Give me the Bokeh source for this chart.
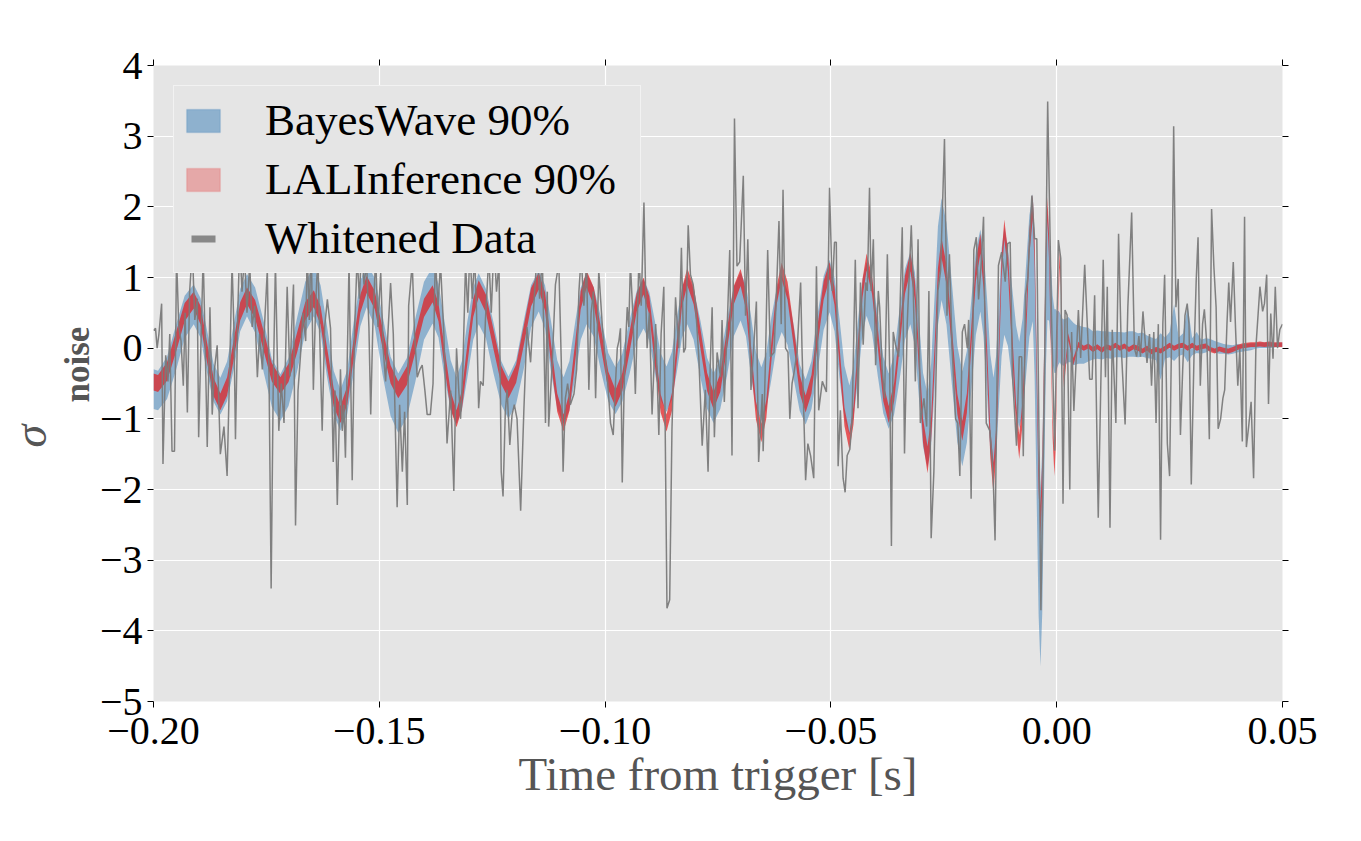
import math
import numpy as np
from bokeh.plotting import figure
from bokeh.models import (Range1d, LinearAxis, SingleIntervalTicker, CustomJSTickFormatter,
                          Legend, LegendItem, Title)
from bokeh.embed import file_html
from bokeh.resources import INLINE

# ---------------- data (time in ms from trigger, values in sigma_noise) ----------------
band_t = [
    -200.0, -199.0, -197.0, -195.0, -193.1, -191.1, -189.6, -188.2, -186.7, -185.2,
    -183.7, -182.2, -180.8, -179.3, -177.5, -175.6, -173.8, -171.9, -170.1, -168.2,
    -166.4, -164.5, -163.0, -161.6, -160.1, -158.6, -157.1, -155.7, -154.2, -152.8,
    -151.0, -149.3, -147.5, -145.8, -143.9, -142.0, -140.1, -138.2, -136.9, -135.6,
    -134.2, -132.9, -131.7, -130.5, -129.2, -128.0, -126.4, -124.7, -123.0, -121.4,
    -119.7, -118.0, -116.4, -114.7, -113.3, -112.0, -110.6, -109.2, -107.9, -106.6,
    -105.4, -104.1, -102.5, -100.9, -99.3, -97.7, -96.2, -94.6, -93.0, -91.5,
    -90.2, -89.0, -87.7, -86.4, -85.2, -84.1, -83.0, -81.8, -80.4, -78.9,
    -77.4, -76.0, -74.5, -73.0, -71.5, -70.0, -68.8, -67.7, -66.6, -65.4,
    -64.3, -63.2, -62.0, -60.9, -59.6, -58.2, -56.9, -55.6, -54.3, -53.0,
    -51.6, -50.3, -49.2, -48.1, -47.0, -45.9, -45.0, -44.0, -43.0, -42.1,
    -40.9, -39.6, -38.4, -37.2, -36.0, -34.8, -33.6, -32.4, -31.4, -30.5,
    -29.6, -28.6, -27.8, -27.0, -26.3, -25.5, -24.4, -23.2, -22.0, -20.9,
    -19.9, -18.9, -17.9, -16.9, -16.2, -15.4, -14.7, -14.0, -13.4, -12.8,
    -12.2, -11.6, -10.8, -9.9, -9.0, -8.3, -7.55, -6.8, -6.05, -5.3,
    -4.9, -4.45, -4.0, -3.6, -3.2, -2.8, -2.4, -2.05, -1.7, -1.3,
    -0.9, -0.5, -0.2, 0.1, 0.4, 0.7, 0.9, 1.15, 1.4, 1.6,
    2.1, 2.6, 3.15, 3.7, 4.25, 4.8, 6, 7, 8, 9,
    10, 11, 12, 13, 14, 15, 16, 17, 18, 19,
    20, 21, 22, 23, 24, 25, 26, 27, 28, 29,
    30, 31, 32, 33, 34, 35, 36, 37, 38, 39,
    40, 41, 42, 43, 44, 45, 46, 47, 48, 49,
    50,
]

lal_mid = [
    -0.48, -0.50, -0.33, 0.09, 0.51, 0.68, 0.47, -0.04, -0.55, -0.76,
    -0.54, -0.01, 0.52, 0.74, 0.55, 0.10, -0.34, -0.53, -0.35, 0.08,
    0.52, 0.70, 0.46, -0.12, -0.70, -0.94, -0.67, -0.02, 0.63, 0.90,
    0.68, 0.15, -0.37, -0.59, -0.39, 0.09, 0.57, 0.77, 0.51, -0.12,
    -0.74, -1.00, -0.73, -0.08, 0.57, 0.84, 0.63, 0.12, -0.38, -0.59,
    -0.36, 0.18, 0.72, 0.95, 0.66, -0.06, -0.77, -1.06, -0.76, -0.04,
    0.68, 0.98, 0.73, 0.14, -0.46, -0.71, -0.48, 0.08, 0.65, 0.88,
    0.60, -0.09, -0.78, -1.06, -0.76, -0.02, 0.71, 1.01, 0.75, 0.14,
    -0.48, -0.74, -0.49, 0.13, 0.75, 1.00, 0.68, -0.10, -0.88, -1.20,
    -0.86, -0.06, 0.75, 1.09, 0.81, 0.15, -0.51, -0.79, -0.51, 0.16,
    0.82, 1.10, 0.74, -0.11, -0.97, -1.32, -0.95, -0.05, 0.85, 1.22,
    0.90, 0.14, -0.62, -0.94, -0.62, 0.14, 0.90, 1.22, 0.81, -0.18,
    -1.17, -1.58, -1.14, -0.08, 0.98, 1.42, 1.04, 0.12, -0.79, -1.17,
    -0.78, 0.16, 1.09, 1.48, 0.99, -0.18, -1.35, -1.84, -1.32, -0.08,
    1.16, 1.68, 1.23, 0.14, -0.95, -1.40, -0.90, 0.30, 1.50, 2.00,
    1.35, -0.23, -1.80, -2.45, -1.80, -0.24, 1.32, 1.97, 1.44, 0.17,
    -1.11, -1.64, -1.21, -0.18, 0.84, 1.27, 1.02, 0.40, -0.22, -0.47,
    -0.16, 0.16, -0.02, -0.19, -0.07, 0.05, 0.00, 0.03, -0.02, 0.02,
    -0.03, 0.02, 0.00, 0.04, 0.00, 0.03, -0.02, 0.02, 0.00, -0.04,
    0.00, -0.05, -0.02, -0.04, 0.00, 0.04, 0.00, 0.03, 0.04, 0.00,
    0.04, 0.00, 0.02, 0.03, -0.02, -0.04, -0.01, -0.03, -0.04, -0.02,
    0.01, 0.03, 0.04, 0.05, 0.05, 0.06, 0.05, 0.06, 0.05, 0.05,
    0.05,
]

lal_half = [
    0.12, 0.12, 0.13, 0.14, 0.13, 0.12, 0.13, 0.14, 0.13, 0.12,
    0.13, 0.14, 0.13, 0.12, 0.13, 0.14, 0.13, 0.12, 0.13, 0.14,
    0.13, 0.12, 0.13, 0.14, 0.13, 0.12, 0.13, 0.14, 0.13, 0.12,
    0.13, 0.14, 0.13, 0.12, 0.13, 0.14, 0.13, 0.12, 0.13, 0.14,
    0.13, 0.12, 0.13, 0.14, 0.13, 0.12, 0.13, 0.14, 0.13, 0.12,
    0.13, 0.14, 0.13, 0.12, 0.13, 0.14, 0.13, 0.12, 0.13, 0.14,
    0.13, 0.12, 0.13, 0.14, 0.13, 0.12, 0.13, 0.14, 0.13, 0.12,
    0.13, 0.14, 0.13, 0.12, 0.13, 0.14, 0.13, 0.12, 0.13, 0.14,
    0.13, 0.12, 0.13, 0.14, 0.13, 0.12, 0.13, 0.14, 0.13, 0.13,
    0.13, 0.14, 0.13, 0.12, 0.13, 0.14, 0.13, 0.12, 0.13, 0.14,
    0.13, 0.12, 0.13, 0.14, 0.13, 0.12, 0.13, 0.14, 0.13, 0.12,
    0.13, 0.14, 0.13, 0.12, 0.13, 0.14, 0.13, 0.13, 0.14, 0.15,
    0.17, 0.19, 0.17, 0.16, 0.15, 0.14, 0.14, 0.15, 0.14, 0.14,
    0.14, 0.15, 0.14, 0.14, 0.15, 0.17, 0.20, 0.22, 0.19, 0.17,
    0.15, 0.14, 0.15, 0.16, 0.17, 0.17, 0.17, 0.17, 0.17, 0.17,
    0.18, 0.20, 0.22, 0.22, 0.20, 0.18, 0.17, 0.17, 0.17, 0.17,
    0.17, 0.17, 0.17, 0.16, 0.15, 0.13, 0.13, 0.12, 0.10, 0.08,
    0.06, 0.05, 0.05, 0.05, 0.04, 0.04, 0.035, 0.035, 0.035, 0.035,
    0.035, 0.035, 0.035, 0.035, 0.035, 0.035, 0.035, 0.035, 0.035, 0.035,
    0.035, 0.035, 0.035, 0.035, 0.035, 0.035, 0.035, 0.035, 0.035, 0.035,
    0.035, 0.035, 0.035, 0.035, 0.035, 0.035, 0.035, 0.035, 0.035, 0.035,
    0.035, 0.035, 0.035, 0.035, 0.035, 0.035, 0.035, 0.035, 0.035, 0.035,
    0.035,
]

bw_mid = [
    -0.58, -0.60, -0.42, 0.01, 0.44, 0.62, 0.43, -0.03, -0.49, -0.68,
    -0.47, 0.03, 0.54, 0.75, 0.54, 0.02, -0.49, -0.70, -0.48, 0.05,
    0.58, 0.80, 0.55, -0.04, -0.63, -0.88, -0.62, 0.00, 0.63, 0.89,
    0.65, 0.05, -0.54, -0.78, -0.56, -0.02, 0.53, 0.75, 0.53, 0.00,
    -0.52, -0.74, -0.53, -0.02, 0.49, 0.70, 0.49, 0.00, -0.49, -0.70,
    -0.48, 0.05, 0.59, 0.81, 0.58, 0.03, -0.51, -0.74, -0.53, -0.02,
    0.49, 0.70, 0.51, 0.05, -0.41, -0.60, -0.42, 0.01, 0.45, 0.63,
    0.45, 0.02, -0.40, -0.58, -0.39, 0.05, 0.50, 0.69, 0.48, -0.01,
    -0.50, -0.71, -0.50, 0.01, 0.52, 0.73, 0.53, 0.04, -0.45, -0.65,
    -0.46, -0.01, 0.44, 0.63, 0.43, -0.07, -0.56, -0.76, -0.52, 0.06,
    0.64, 0.88, 0.62, 0.00, -0.62, -0.88, -0.63, -0.02, 0.59, 0.84,
    0.61, 0.04, -0.52, -0.75, -0.52, 0.05, 0.62, 0.85, 0.55, -0.16,
    -0.87, -1.17, -0.79, 0.12, 1.02, 1.40, 1.05, 0.20, -0.65, -1.00,
    -0.69, 0.05, 0.79, 1.10, 0.78, 0.00, -0.78, -1.10, -0.80, -0.08,
    0.65, 0.95, 0.73, 0.22, -0.30, -0.52, -0.26, 0.38, 1.02, 1.28,
    0.62, -0.99, -2.59, -3.25, -2.60, -1.03, 0.55, 1.20, 1.04, 0.65,
    0.26, 0.10, 0.10, 0.12, 0.15, 0.15, 0.12, 0.10, 0.08, 0.08,
    0.10, 0.12, 0.10, 0.06, 0.05, 0.05, 0.04, 0.05, 0.04, 0.05,
    0.04, 0.05, 0.04, 0.05, 0.05, 0.04, 0.06, 0.06, 0.04, 0.05,
    0.02, 0.00, -0.02, -0.12, 0.00, 0.05, 0.22, 0.02, 0.06, 0.20,
    0.02, 0.08, 0.02, 0.04, 0.05, 0.02, 0.00, -0.01, -0.02, -0.02,
    0.00, 0.00, 0.01, 0.02, 0.03, 0.04, 0.04, 0.04, 0.04, 0.05,
    0.05,
]

bw_half = [
    0.28, 0.28, 0.30, 0.32, 0.30, 0.28, 0.28, 0.30, 0.27, 0.26,
    0.28, 0.32, 0.30, 0.30, 0.32, 0.36, 0.34, 0.33, 0.34, 0.38,
    0.36, 0.35, 0.34, 0.36, 0.31, 0.29, 0.31, 0.36, 0.32, 0.31,
    0.34, 0.42, 0.42, 0.42, 0.42, 0.45, 0.41, 0.40, 0.38, 0.40,
    0.35, 0.33, 0.35, 0.40, 0.37, 0.36, 0.35, 0.36, 0.31, 0.30,
    0.31, 0.34, 0.30, 0.29, 0.31, 0.36, 0.34, 0.33, 0.35, 0.40,
    0.37, 0.36, 0.35, 0.38, 0.34, 0.33, 0.34, 0.38, 0.36, 0.35,
    0.34, 0.37, 0.33, 0.32, 0.34, 0.38, 0.36, 0.35, 0.36, 0.40,
    0.36, 0.35, 0.36, 0.40, 0.35, 0.34, 0.36, 0.42, 0.40, 0.38,
    0.40, 0.44, 0.41, 0.40, 0.38, 0.38, 0.33, 0.32, 0.34, 0.40,
    0.38, 0.37, 0.38, 0.42, 0.37, 0.35, 0.37, 0.42, 0.39, 0.38,
    0.39, 0.44, 0.40, 0.39, 0.42, 0.50, 0.50, 0.51, 0.52, 0.55,
    0.52, 0.52, 0.58, 0.66, 0.70, 0.72, 0.72, 0.72, 0.68, 0.67,
    0.65, 0.64, 0.60, 0.58, 0.62, 0.68, 0.69, 0.68, 0.70, 0.74,
    0.76, 0.76, 0.70, 0.66, 0.62, 0.61, 0.68, 0.78, 0.86, 0.90,
    1.00, 1.10, 1.20, 1.25, 1.15, 1.00, 0.85, 0.80, 0.65, 0.55,
    0.48, 0.45, 0.45, 0.40, 0.38, 0.35, 0.35, 0.33, 0.33, 0.33,
    0.32, 0.32, 0.30, 0.30, 0.28, 0.27, 0.26, 0.24, 0.20, 0.20,
    0.20, 0.19, 0.19, 0.18, 0.18, 0.18, 0.18, 0.18, 0.17, 0.17,
    0.16, 0.15, 0.15, 0.33, 0.15, 0.18, 0.40, 0.13, 0.15, 0.40,
    0.12, 0.15, 0.10, 0.10, 0.08, 0.08, 0.08, 0.07, 0.07, 0.06,
    0.06, 0.05, 0.05, 0.05, 0.04, 0.04, 0.04, 0.04, 0.03, 0.03,
    0.03,
]

gray_t = [
    -200.0, -199.55, -199.2, -198.8, -198.2, -197.9, -197.3, -196.8, -196.4, -195.9,
    -195.35, -194.9, -194.4, -193.9, -193.4, -193.0, -192.5, -192.0, -191.4, -190.85,
    -190.3, -190.0, -189.4, -189.0, -188.6, -188.1, -187.5, -187.0, -186.5, -185.9,
    -185.2, -184.4, -183.7, -183.1, -182.6, -182.2, -181.85, -181.3, -180.9, -180.4,
    -179.85, -179.3, -178.7, -178.15, -177.6, -177.0, -176.5, -175.9, -175.35, -174.8,
    -174.4, -173.95, -173.5, -173.0, -172.25, -171.7, -171.1, -170.4, -169.8, -169.4,
    -169.0, -168.55, -168.0, -167.45, -166.9, -166.3, -165.97, -165.5, -165.1, -164.6,
    -164.1, -163.6, -163.2, -162.65, -162.1, -161.5, -160.8, -160.2, -159.8, -159.3,
    -158.6, -158.2, -157.85, -157.5, -156.7, -156.0, -155.5, -154.9, -154.4, -153.9,
    -153.4, -152.8, -152.3, -151.9, -151.4, -150.8, -150.3, -149.7, -149.15, -148.6,
    -148.1, -147.5, -146.9, -146.4, -146.05, -145.5, -144.9, -144.4, -143.8, -143.5,
    -142.7, -142.2, -141.6, -141.0, -140.5, -139.9, -139.4, -138.7, -138.1, -137.6,
    -137.0, -136.45, -135.7, -135.0, -134.2, -133.5, -132.9, -132.4, -132.0, -131.5,
    -130.9, -130.4, -129.95, -129.4, -128.9, -128.5, -128.0, -127.6, -127.0, -126.5,
    -125.75, -125.2, -124.6, -124.05, -123.5, -123.0, -122.6, -122.1, -121.7, -121.1,
    -120.6, -120.1, -119.5, -118.7, -118.0, -117.3, -116.5, -115.8, -115.0, -114.5,
    -113.9, -113.2, -112.8, -112.5, -111.7, -111.0, -110.25, -109.7, -109.3, -108.8,
    -108.3, -107.7, -106.9, -106.3, -105.8, -105.3, -104.7, -104.1, -103.6, -103.1,
    -102.6, -102.1, -101.4, -100.6, -99.9, -99.4, -98.8, -98.2, -97.7, -97.3,
    -96.95, -96.6, -96.2, -95.7, -95.1, -94.75, -94.4, -93.8, -93.3, -92.9,
    -92.5, -92.0, -91.4, -91.0, -90.7, -90.2, -89.6, -88.8, -88.1, -87.6,
    -87.0, -86.3, -85.7, -85.2, -84.4, -83.7, -83.1, -82.6, -82.2, -81.6,
    -81.1, -80.5, -80.0, -79.25, -78.5, -77.8, -77.2, -76.7, -76.3, -75.8,
    -75.2, -74.45, -74.1, -73.6, -73.0, -72.4, -71.9, -71.35, -70.8, -70.2,
    -69.4, -68.9, -68.4, -67.7, -67.1, -66.5, -66.0, -65.2, -65.0, -64.5,
    -64.0, -63.4, -62.6, -62.05, -61.5, -61.0, -60.6, -60.05, -59.5, -59.1,
    -58.6, -58.2, -57.5, -56.7, -56.4, -55.6, -55.1, -54.5, -53.8, -53.2,
    -52.7, -51.9, -51.0, -50.3, -49.7, -49.2, -48.8, -48.4, -47.9, -47.3,
    -46.85, -46.4, -45.8, -45.3, -44.6, -44.0, -43.45, -42.85, -42.3, -41.95,
    -41.45, -41.1, -40.6, -40.1, -39.5, -39.2, -38.65, -38.1, -37.5, -37.0,
    -36.6, -36.2, -35.7, -35.0, -34.2, -33.7, -33.1, -32.2, -31.8, -31.3,
    -30.7, -30.2, -29.4, -28.8, -28.3, -27.8, -27.2, -26.3, -25.7, -24.85,
    -24.3, -23.75, -23.2, -22.4, -21.9, -21.45, -20.9, -20.4, -19.8, -19.5,
    -18.95, -18.35, -17.8, -17.3, -16.7, -16.2, -15.6, -14.8, -14.1, -13.65,
    -12.9, -12.2, -11.4, -10.85, -10.3, -9.8, -8.9, -8.3, -7.75, -7.4,
    -6.9, -6.4, -5.5, -4.9, -4.4, -3.5, -2.7, -2.0, -1.2, -0.45,
    0.37, 0.9, 1.4, 1.85, 2.3, 2.9, 3.3, 3.8, 4.8, 5.3,
    6.2, 7.3, 7.85, 8.4, 9.2, 10.3, 10.8, 11.2, 11.8, 12.3,
    13.1, 13.7, 14.3, 15.15, 15.75, 16.6, 17.2, 17.7, 18.2, 18.55,
    19.1, 19.7, 20.0, 20.55, 21.0, 21.5, 22.0, 22.5, 23.0, 23.5,
    23.9, 24.5, 25.0, 25.4, 25.9, 26.4, 26.9, 27.4, 27.9, 28.4,
    28.9, 29.3, 29.8, 30.4, 30.9, 31.3, 31.8, 32.3, 32.7, 33.3,
    33.8, 34.3, 34.8, 35.3, 35.75, 36.3, 36.8, 37.2, 37.7, 38.1,
    38.5, 39.1, 39.6, 40.1, 40.55, 41.1, 41.6, 42.0, 42.5, 43.05,
    43.6, 44.1, 45.0, 45.6, 46.0, 46.5, 46.9, 47.4, 47.9, 48.4,
    48.9, 49.4, 50.0,
]

gray_v = [
    0.25, 0.28, 0.0, 0.2, 0.63, -1.64, -0.1, -0.47, 0.2, -1.46,
    -1.46, 1.3, 0.3, 0.1, -0.53, 0.5, -0.91, 0.8, 1.4, 0.4,
    0.7, -1.26, 0.3, 1.3, 0.2, -1.4, 0.58, -0.94, -0.3, 0.04,
    -1.5, -1.11, -1.81, -0.2, 1.2, 0.3, -1.29, 0.6, 1.5, 0.8,
    1.3, 0.5, 1.2, 0.3, 0.6, -0.41, 0.2, -0.3, 0.4, 1.1,
    -0.5, -3.4, -0.6, 1.2, -1.17, -0.5, -1.06, 0.87, -0.4, 0.3,
    0.9, -2.51, -0.6, -0.1, 0.5, 0.1, 1.4, 0.4, 1.6, -0.59,
    0.6, 1.3, 0.2, -1.17, 0.3, 0.69, 0.28, -1.61, -0.6, -2.22,
    -0.3, -1.17, -0.8, -1.55, 1.2, -1.87, 0.2, 1.3, 0.7, 1.5,
    0.9, 1.2, 0.3, -0.94, 0.4, 1.3, 0.3, 1.1, 0.0, -0.47,
    0.2, 0.92, 0.2, -1.26, -2.25, -0.8, -1.75, -0.9, -2.22, 0.6,
    1.2, 0.2, -0.41, -0.3, -0.24, -0.6, -0.94, -0.94, -0.5, 1.3,
    0.6, 1.2, 0.2, -1.35, -0.6, -2.02, 0.0, -0.6, -1.0, -0.3,
    1.2, 0.5, 1.4, 0.7, 1.3, 0.6, -0.85, -0.47, -0.53, 0.4,
    1.3, 0.5, 1.5, 0.8, 1.2, -1.75, -2.1, -0.9, -0.59, -1.37,
    -0.94, -0.8, -1.0, -2.3, -0.9, 0.3, -0.2, 0.6, 1.4, 0.7,
    1.3, -1.06, 0.8, -1.11, -0.2, 0.9, 1.2, -0.2, -1.75, -0.71,
    -0.5, -0.8, -0.65, -0.3, 0.8, 1.3, 0.6, 1.2, -0.59, 0.5,
    0.8, -0.71, 1.1, 0.3, -0.2, -0.5, -1.06, -1.23, -0.5, 0.0,
    0.1, 0.28, -1.9, -0.3, 0.58, 0.3, 1.2, 0.4, -0.65, 0.3,
    1.3, 0.6, 2.06, 0.7, 0.0, 0.5, -0.94, 0.34, -1.23, 0.2,
    0.87, -3.68, -3.56, -1.17, 0.72, 0.0, 1.42, -0.06, 0.0, 1.74,
    1.04, 0.9, 0.63, -0.12, -1.38, -0.59, -1.75, -0.2, 0.58, -1.26,
    -0.06, -0.41, 0.4, -0.76, 0.23, 1.39, -1.52, 3.25, 1.16, 1.22,
    2.44, 0.46, 1.54, -0.59, 0.0, 0.66, -1.61, -0.65, -1.46, -0.2,
    1.39, -0.12, -0.06, 0.8, 1.8, 0.34, 2.24, 0.0, -0.06, -1.0,
    -0.5, -0.36, -0.06, 0.93, 0.0, -1.87, -1.35, -1.52, -1.84, 1.16,
    -0.88, -0.47, -0.62, 2.27, 0.81, 1.5, 1.5, -1.67, -0.88, -1.84,
    -2.04, -1.52, -1.43, -1.0, 1.25, -0.85, 0.93, 0.05, 0.93, 0.81,
    2.27, 0.81, 1.54, -0.24, 0.81, 0.58, -0.3, -0.71, 1.33, -0.24,
    -2.8, 0.23, 0.05, -0.12, 1.71, -1.49, 0.34, 1.74, 0.93, -0.47,
    1.54, -1.06, -0.71, -1.11, 0.81, -2.69, -1.75, 0.81, 1.1, 2.96,
    0.46, 1.33, 0.05, -1.0, -1.06, -1.81, 0.23, 0.34, 0.0, 0.4,
    -2.13, 1.39, 1.57, 0.69, 1.22, 1.86, -1.06, -1.17, -1.75, -2.72,
    1.17, 1.36, 0.94, 1.48, 1.5, -0.38, -1.38, -0.12, -0.12, -1.53,
    0.75, 0.99, 2.16, 1.55, 1.55, -3.71, -0.47, 3.49, 0.6, -1.45,
    1.53, 1.27, -2.2, 0.54, 0.47, -2.0, 0.23, -0.89, 0.54, -0.14,
    1.18, -0.44, -0.44, 0.75, -2.4, 1.25, -0.41, 0.87, -2.54, 0.26,
    -1.06, 1.62, 0.0, -1.08, 0.58, 1.92, 0.0, -0.12, 0.17, -0.12,
    0.52, 0.0, -0.21, 0.2, -0.53, 0.23, -1.06, 0.34, -2.71, 0.34,
    1.04, -1.35, -1.81, 0.0, 3.14, 0.58, 0.98, -1.23, -0.3, 0.46,
    0.63, 0.34, -1.93, -0.12, 0.98, 1.57, -0.53, 0.34, 0.55, 0.0,
    -1.29, 1.97, 1.16, 0.58, -1.14, -1.0, -0.71, -0.59, 0.34, 0.93,
    0.37, 1.22, 0.28, -0.53, 0.0, -1.32, 1.86, -1.4, -1.11, -0.76,
    -1.84, 0.0, 0.87, 0.52, 0.63, 1.04, -0.79, 0.49, -0.15, 0.87,
    0.0, 0.26, 0.34,
]

legend_labels = ["BayesWave 90%", "LALInference 90%", "Whitened Data"]
x_label = "Time from trigger [s]"
y_label_main = "σ"
y_label_sub = "noise"

# ---------------- derived columns ----------------
n = len(band_t)
assert len(lal_mid) == n and len(lal_half) == n and len(bw_mid) == n and len(bw_half) == n
assert len(gray_t) == len(gray_v)
tb = np.array(band_t) / 1000.0
lal_lo = np.array(lal_mid) - np.array(lal_half)
lal_hi = np.array(lal_mid) + np.array(lal_half)
bw_lo = np.array(bw_mid) - np.array(bw_half)
bw_hi = np.array(bw_mid) + np.array(bw_half)
tg = np.array(gray_t) / 1000.0

# ---------------- figure ----------------
SERIF = "Liberation Serif"
p = figure(frame_width=1129, frame_height=636,
           x_range=Range1d(-0.2, 0.05), y_range=Range1d(-5, 4),
           output_backend="svg", toolbar_location=None,
           min_border_left=153, min_border_right=70,
           min_border_top=65, min_border_bottom=125,
           background_fill_color="#E5E5E5", border_fill_color="white",
           outline_line_color=None)
p.title.visible = False

bottom_ax = p.below[0]
left_ax = p.left[0]

xt = SingleIntervalTicker(interval=0.05, num_minor_ticks=0)
yt = SingleIntervalTicker(interval=1, num_minor_ticks=0)
bottom_ax.ticker = xt
left_ax.ticker = yt
p.xgrid.ticker = xt
p.ygrid.ticker = yt
for g in (p.xgrid, p.ygrid):
    g.grid_line_color = "white"
    g.grid_line_width = 1.2

bottom_ax.formatter = CustomJSTickFormatter(
    code="return (tick < -1e-9 ? '\\u2212' : '') + Math.abs(tick).toFixed(2);")
left_ax.formatter = CustomJSTickFormatter(
    code="return (tick < -1e-9 ? '\\u2212' : '') + Math.abs(Math.round(tick)).toString();")

blank = CustomJSTickFormatter(code="return '';")
top_ax = LinearAxis(ticker=xt, formatter=blank, major_label_text_font_size="8px",
                    major_label_standoff=0)
right_ax = LinearAxis(ticker=yt, formatter=blank, major_label_text_font_size="8px",
                      major_label_standoff=0)

for ax in (bottom_ax, left_ax, top_ax, right_ax):
    ax.axis_line_color = None
    ax.major_tick_line_color = "black"
    ax.major_tick_line_width = 1
    ax.major_tick_out = 6
    ax.major_tick_in = 0
    ax.minor_tick_line_color = None
for ax in (bottom_ax, left_ax):
    ax.major_label_text_font = SERIF
    ax.major_label_text_font_size = "40px"
    ax.major_label_text_color = "black"
bottom_ax.major_label_standoff = 10
left_ax.major_label_standoff = 5

bottom_ax.axis_label = x_label
bottom_ax.axis_label_text_font = SERIF
bottom_ax.axis_label_text_font_size = "47px"
bottom_ax.axis_label_text_font_style = "normal"
bottom_ax.axis_label_text_color = "#555555"
bottom_ax.axis_label_standoff = 1

p.add_layout(top_ax, "above")
p.add_layout(right_ax, "right")

# y-axis label: sigma with subscript "noise" (two vertical titles on the left side)
sub_title = Title(text=y_label_sub, align="left", offset=299, standoff=0,
                  vertical_align="bottom", text_font=SERIF, text_font_style="bold",
                  text_font_size="35px", text_color="#555555")
sig_title = Title(text=y_label_main, align="left", offset=254, standoff=0,
                  vertical_align="bottom", text_font=SERIF, text_font_style="italic",
                  text_font_size="46px", text_color="#555555")
p.add_layout(sub_title, "left")
p.add_layout(sig_title, "left")

# bands and data
p.varea(x=tb, y1=bw_lo, y2=bw_hi, fill_color="#377EB8", fill_alpha=0.5)
p.varea(x=tb, y1=lal_lo, y2=lal_hi, fill_color="#E41A1C", fill_alpha=0.7)
p.line(x=tg, y=gray_v, line_color="#7A7A7A", line_width=1.5, line_alpha=0.95)

# legend-only renderers (a single NaN row draws nothing in the plot)
nan = [float("nan")]
leg_bw = p.quad(left=nan, right=nan, bottom=nan, top=nan, fill_color="#377EB8",
                fill_alpha=0.5, line_color="#377EB8", line_alpha=0.2, line_width=1.5)
leg_lal = p.quad(left=nan, right=nan, bottom=nan, top=nan, fill_color="#E41A1C",
                 fill_alpha=0.3, line_color="#E41A1C", line_alpha=0.12, line_width=1.5)
leg_dat = p.line(x=nan, y=nan, line_color="#888888", line_width=7, line_dash="0 9 24 9")

legend = Legend(items=[LegendItem(label=legend_labels[0], renderers=[leg_bw]),
                       LegendItem(label=legend_labels[1], renderers=[leg_lal]),
                       LegendItem(label=legend_labels[2], renderers=[leg_dat])],
                location="top_left", margin=20, padding=8, spacing=7,
                glyph_width=42, glyph_height=29, label_standoff=41, label_width=367,
                label_text_font=SERIF, label_text_font_size="45px",
                label_text_color="black",
                background_fill_color="#E5E5E5", background_fill_alpha=1.0,
                border_line_color="white", border_line_width=1.5)
p.add_layout(legend)

open("out.html", "w", encoding="utf-8").write(file_html(p, INLINE))
